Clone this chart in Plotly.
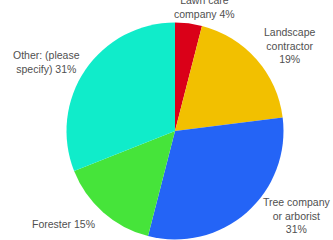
import plotly.graph_objects as go

labels = ["Lawn care company", "Landscape contractor", "Tree company or arborist", "Forester", "Other: (please specify)"]
values = [4, 19, 31, 15, 31]
colors = ["#da0018", "#f2c000", "#2464f6", "#46e43a", "#10ecca"]

label_text = ["Lawn care<br>company 4%", "Landscape<br>contractor<br>19%", "Tree company<br>or arborist<br>31%",
              "Forester 15%", "Other: (please<br>specify) 31%"]
label_xy = [(204, 7), (290, 45), (296, 215), (63, 224), (46, 62)]

W, H = 333, 240
cx, cy, r = 175, 131, 108.5

fig = go.Figure(go.Pie(
    labels=labels, values=values, sort=False, direction="clockwise", rotation=0,
    marker=dict(colors=colors, line=dict(width=0)),
    textinfo="none", hoverinfo="label+percent", showlegend=False,
    domain=dict(x=[(cx - r) / W, (cx + r) / W], y=[(H - cy - r) / H, (H - cy + r) / H]),
))

for t, (x, y) in zip(label_text, label_xy):
    fig.add_annotation(x=x / W, y=1 - y / H, xref="paper", yref="paper", text=t, showarrow=False,
                       font=dict(family="Liberation Sans, Arial", size=10.5, color="#505050"),
                       align="center", xanchor="center", yanchor="middle")

fig.update_layout(width=W, height=H, margin=dict(l=0, r=0, t=0, b=0),
                  paper_bgcolor="white", plot_bgcolor="white")
fig.write_html("out.html", config={"displayModeBar": False},
               post_script="document.body.style.margin='0';document.body.style.overflow='hidden';")
